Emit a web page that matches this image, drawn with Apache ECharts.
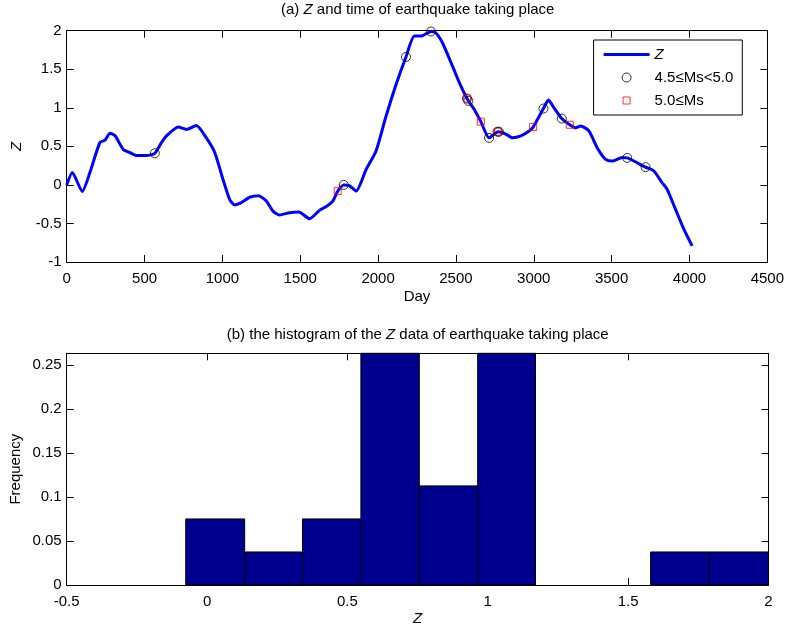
<!DOCTYPE html>
<html>
<head>
<meta charset="utf-8">
<script src="https://cdn.jsdelivr.net/npm/echarts/dist/echarts.min.js"></script>
<style>html,body{margin:0;padding:0;background:#fff}#c{width:787px;height:627px}</style>
</head>
<body>
<div id="c"></div>
<script>
// ---- Data ----
const days = [0,36,100,149,213,246,278,310,363,406,449,513,566,609,641,716,769,833,897,951,1004,1047,1079,1122,1175,1233,1282,1325,1367,1431,1491,1560,1624,1667,1709,1741,1780,1816,1859,1923,1987,2051,2115,2179,2233,2276,2340,2372,2414,2478,2521,2574,2617,2660,2713,2771,2820,2863,2917,2970,2996,3062,3094,3130,3180,3231,3269,3301,3354,3408,3462,3504,3568,3600,3643,3718,3771,3824,3856,3910,3963,4017];
const zValues = [0.0,0.16,-0.086,0.16,0.55,0.58,0.67,0.64,0.46,0.42,0.38,0.38,0.41,0.55,0.635,0.75,0.72,0.77,0.61,0.42,0.07,-0.19,-0.26,-0.23,-0.16,-0.14,-0.21,-0.34,-0.39,-0.36,-0.35,-0.44,-0.33,-0.28,-0.21,-0.08,0.0,-0.01,-0.08,0.2,0.44,0.89,1.30,1.66,1.93,1.93,1.99,1.97,1.84,1.54,1.33,1.11,0.98,0.82,0.61,0.69,0.66,0.61,0.635,0.70,0.75,0.99,1.10,1.0,0.86,0.78,0.74,0.765,0.70,0.48,0.33,0.31,0.355,0.35,0.31,0.23,0.18,0.03,-0.055,-0.315,-0.57,-0.79];

const quakeMidDays = [566,1780,2179,2340,2571,2580,2713,2768,2776,3062,3180,3600,3718];
const quakeMidZ    = [0.41,0.0,1.66,1.99,1.12,1.09,0.61,0.69,0.69,0.99,0.86,0.35,0.23];

const quakeBigDays = [1741,2571,2660,2768,2996,3231];
const quakeBigZ    = [-0.08,1.12,0.82,0.69,0.75,0.78];

const binEdges = [-0.076,0.134,0.340,0.548,0.756,0.964,1.170,1.376,1.580,1.790,2.0];
const binFreq  = [0.075,0.0375,0.075,0.3125,0.1125,0.3125,0,0,0.0375,0.0375];

const dayTicks = {min:0, max:4500, interval:500};
const zTicks = {min:-1, max:2, interval:0.5};
const histXTicks = {min:-0.5, max:2, interval:0.5};
const histYTicks = {min:0, max:0.263, interval:0.05};

// ---- Build ----
const FONT = "'Liberation Sans', Arial, Helvetica, sans-serif";
const TXT = '#000';
const FS = 15;

const lineData = days.map((d,i)=>[d, zValues[i]]);
const midData = quakeMidDays.map((d,i)=>[d, quakeMidZ[i]]);
const bigData = quakeBigDays.map((d,i)=>[d, quakeBigZ[i]]);
const histData = binFreq.map((f,i)=>[binEdges[i], binEdges[i+1], f]);

const chart = echarts.init(document.getElementById('c'), null, {renderer:'canvas'});

const plain = v => String(Math.round(v*1000)/1000);

function mainAxis(extra){
  return Object.assign({
    type:'value',
    nameMoveOverlap:false,
    axisLine:{show:true, onZero:false, lineStyle:{color:'#000', width:1}},
    axisTick:{show:true, inside:true, length:7, lineStyle:{color:'#000'}},
    splitLine:{show:false},
    axisLabel:{color:TXT, fontSize:FS, fontFamily:FONT, margin:5, formatter:plain}
  }, extra);
}
function mirrorAxis(extra){
  return Object.assign({
    type:'value',
    axisLine:{show:true, onZero:false, lineStyle:{color:'#000', width:1}},
    axisTick:{show:true, inside:true, length:7, lineStyle:{color:'#000'}},
    splitLine:{show:false},
    axisLabel:{show:false}
  }, extra);
}
const richT = {n:{fontSize:FS, fontFamily:FONT, color:TXT, fontWeight:'normal'},
               i:{fontSize:FS, fontFamily:FONT, color:TXT, fontWeight:'normal', fontStyle:'italic'}};

const option = {
  backgroundColor:'#fff',
  animation:false,
  textStyle:{fontFamily:FONT},
  title:[
    {text:'{n|(a) }{i|Z}{n| and time of earthquake taking place}', left:417.7, top:2, textAlign:'center', padding:0,
     textStyle:{fontWeight:'normal', rich:richT}},
    {text:'{n|(b) the histogram of the }{i|Z}{n| data of earthquake taking place}', left:417.7, top:327, textAlign:'center', padding:0,
     textStyle:{fontWeight:'normal', rich:richT}}
  ],
  grid:[
    {left:66.7, right:18.5, top:30.7, height:231.3},
    {left:66.7, right:18.5, top:353.3, height:232}
  ],
  xAxis:[
    mainAxis({gridIndex:0, position:'bottom', min:dayTicks.min, max:dayTicks.max, interval:dayTicks.interval,
      axisLabel:{color:TXT, fontSize:FS, fontFamily:FONT, margin:9, formatter:plain},
      name:'Day', nameLocation:'middle', nameGap:27, nameTextStyle:{color:TXT, fontSize:FS, fontFamily:FONT}}),
    mirrorAxis({gridIndex:0, position:'top', min:dayTicks.min, max:dayTicks.max, interval:dayTicks.interval}),
    mainAxis({gridIndex:1, position:'bottom', min:histXTicks.min, max:histXTicks.max, interval:histXTicks.interval,
      axisLabel:{color:TXT, fontSize:FS, fontFamily:FONT, margin:9, formatter:plain},
      name:'Z', nameLocation:'middle', nameGap:26, nameTextStyle:{color:TXT, fontSize:FS, fontFamily:FONT, fontStyle:'italic'}}),
    mirrorAxis({gridIndex:1, position:'top', min:histXTicks.min, max:histXTicks.max, interval:histXTicks.interval})
  ],
  yAxis:[
    mainAxis({gridIndex:0, position:'left', min:zTicks.min, max:zTicks.max, interval:zTicks.interval,
      name:'Z', nameLocation:'middle', nameGap:42, nameRotate:90, nameTextStyle:{color:TXT, fontSize:FS, fontFamily:FONT, fontStyle:'italic'}}),
    mirrorAxis({gridIndex:0, position:'right', min:zTicks.min, max:zTicks.max, interval:zTicks.interval}),
    mainAxis({gridIndex:1, position:'left', min:histYTicks.min, max:histYTicks.max, interval:histYTicks.interval,
      axisLabel:{color:TXT, fontSize:FS, fontFamily:FONT, margin:5, showMaxLabel:false, formatter:plain},
      name:'Frequency', nameLocation:'middle', nameGap:43, nameRotate:90, nameTextStyle:{color:TXT, fontSize:FS, fontFamily:FONT}}),
    mirrorAxis({gridIndex:1, position:'right', min:histYTicks.min, max:histYTicks.max, interval:histYTicks.interval})
  ],
  legend:{
    orient:'vertical', right:44.7, top:40,
    backgroundColor:'#fff', borderColor:'#000', borderWidth:1,
    padding:[7,9,7,10], itemWidth:46, itemHeight:9, itemGap:8,
    textStyle:{color:TXT, fontSize:FS, fontFamily:FONT},
    data:[
      {name:'Z', textStyle:{fontStyle:'italic'}, icon:'path://M0,0L46,0L46,3L0,3Z',
       itemStyle:{color:'#0000FF', borderWidth:0}},
      {name:'4.5≤Ms<5.0', icon:'circle',
       itemStyle:{color:'rgba(0,0,0,0)', borderColor:'#000', borderWidth:1}},
      {name:'5.0≤Ms', icon:'path://M0,0M9,9M1,1L8,1L8,8L1,8Z',
       itemStyle:{color:'rgba(0,0,0,0)', borderColor:'#FF0000', borderWidth:1}}
    ]
  },
  series:[
    {name:'Z', type:'line', xAxisIndex:0, yAxisIndex:0, data:lineData, symbol:'none', smooth:0.2,
     lineStyle:{color:'#0000FF', width:3}, itemStyle:{color:'#0000FF'}, z:2},
    {name:'4.5≤Ms<5.0', type:'scatter', xAxisIndex:0, yAxisIndex:0, data:midData, symbol:'circle', symbolSize:9,
     itemStyle:{color:'rgba(0,0,0,0)', borderColor:'#000', borderWidth:1}, z:4},
    {name:'5.0≤Ms', type:'scatter', xAxisIndex:0, yAxisIndex:0, data:bigData, symbol:'rect', symbolSize:7,
     itemStyle:{color:'rgba(0,0,0,0)', borderColor:'#FF0000', borderWidth:1}, z:5},
    {name:'hist', type:'custom', xAxisIndex:2, yAxisIndex:2, data:histData, encode:{x:[0,1], y:2},
     renderItem:function(params, api){
       const x0 = api.value(0), x1 = api.value(1), h = api.value(2);
       if (!(h > 0)) return null;
       const p0 = api.coord([x0, 0]);
       const p1 = api.coord([x1, h]);
       const shape = echarts.graphic.clipRectByRect(
         {x:p0[0], y:p1[1], width:p1[0]-p0[0], height:p0[1]-p1[1]},
         {x:params.coordSys.x, y:params.coordSys.y, width:params.coordSys.width, height:params.coordSys.height});
       return shape && {type:'rect', shape:shape, style:{fill:'#00008F', stroke:'#000', lineWidth:1}};
     }}
  ]
};
chart.setOption(option);
</script>
</body>
</html>
